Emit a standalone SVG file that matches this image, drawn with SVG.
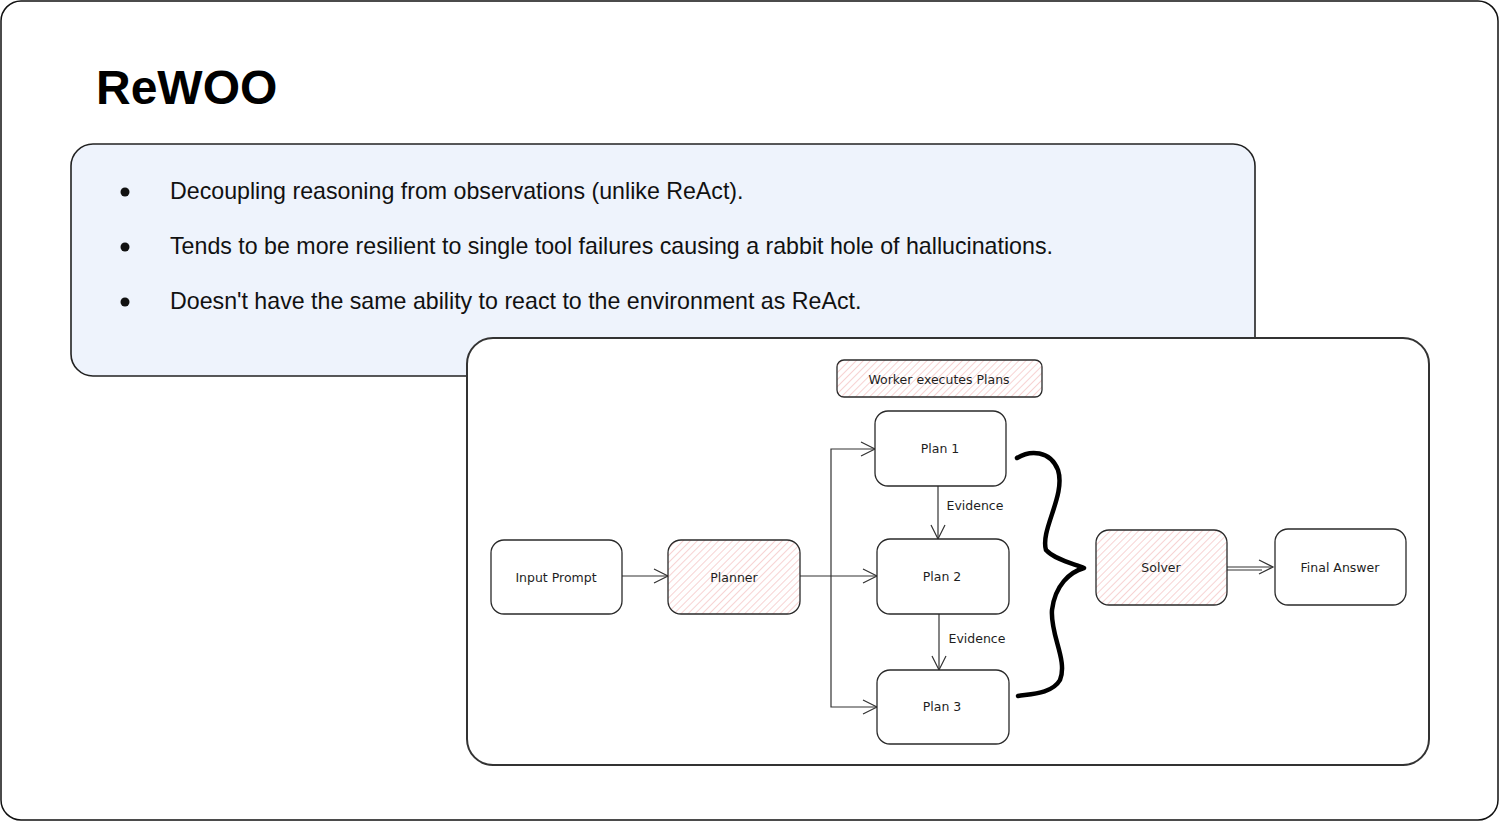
<svg xmlns="http://www.w3.org/2000/svg" width="1500" height="822" viewBox="0 0 1500 822">
<style>
.frame{fill:#fff;stroke:#111;stroke-width:1.5}
.panel{fill:#eef3fc;stroke:#222;stroke-width:1.6}
.card{fill:#fff;stroke:#333;stroke-width:2}
.node{fill:#fff;stroke:#2a2a2a;stroke-width:1.3}
.hatch{fill:url(#hatch);stroke:#2a2a2a;stroke-width:1.3}
.title{font-family:"Liberation Sans",Arial,sans-serif;font-weight:bold;font-size:48px;fill:#000}
.bullet{font-family:"Liberation Sans",Arial,sans-serif;font-size:23.2px;fill:#111}
.lbl{font-family:"DejaVu Sans",sans-serif;font-size:12.5px;fill:#1e1e1e;text-anchor:middle;dominant-baseline:central}
.edge{fill:none;stroke:#333;stroke-width:1.2}
.brace{fill:none;stroke:#000;stroke-width:4.5;stroke-linecap:round;stroke-linejoin:round}
</style>
<defs>
<pattern id="hatch" patternUnits="userSpaceOnUse" width="5" height="5" patternTransform="rotate(45)">
<rect width="5" height="5" fill="#fff"/>
<line x1="0" y1="0" x2="0" y2="5" stroke="#f3bcbc" stroke-width="1.3"/>
</pattern>
<marker id="arr" markerUnits="userSpaceOnUse" markerWidth="20" markerHeight="20" refX="15" refY="8" orient="auto">
<path d="M1,1 L15,8 L1,15" fill="none" stroke="#333" stroke-width="1.2"/>
</marker>
</defs>
<rect class="frame" x="1" y="1" width="1497" height="819" rx="20"/>
<text class="title" x="96" y="104">ReWOO</text>
<g id="summary">
<rect class="panel" x="71" y="144" width="1184" height="232" rx="22"/>
<circle cx="125" cy="192" r="4.5" fill="#111"/>
<text class="bullet" x="170" y="199">Decoupling reasoning from observations (unlike ReAct).</text>
<circle cx="125" cy="247" r="4.5" fill="#111"/>
<text class="bullet" x="170" y="254">Tends to be more resilient to single tool failures causing a rabbit hole of hallucinations.</text>
<circle cx="125" cy="302" r="4.5" fill="#111"/>
<text class="bullet" x="170" y="309">Doesn't have the same ability to react to the environment as ReAct.</text>
</g>
<rect class="card" x="467" y="338" width="962" height="427" rx="26"/>
<g id="connectors">
<path class="edge" d="M622,576 L668,576" marker-end="url(#arr)"/>
<path class="edge" d="M800,576 L877,576" marker-end="url(#arr)"/>
<path class="edge" d="M831,576 L831,449 L875,449" marker-end="url(#arr)"/>
<path class="edge" d="M831,576 L831,707 L877,707" marker-end="url(#arr)"/>
<path class="edge" d="M938,486 L938,539" marker-end="url(#arr)"/>
<path class="edge" d="M939,614 L939,670" marker-end="url(#arr)"/>
<path class="edge" d="M1227,567 L1273,567" marker-end="url(#arr)"/>
<path class="edge" d="M1227,570 L1262,570"/>
<text class="lbl" x="975" y="505">Evidence</text>
<text class="lbl" x="977" y="638">Evidence</text>
<path class="brace" d="M1017,458 C1030,450 1050,450 1058,470 C1066,495 1040,530 1046,550 C1055,560 1075,564 1084,568 C1070,572 1055,585 1052,610 C1050,635 1068,660 1060,680 C1052,694 1030,694 1018,696"/>
</g>
<g id="worker">
<rect class="hatch" x="837" y="360" width="205" height="37" rx="7"/>
<text class="lbl" x="939" y="379">Worker executes Plans</text>
</g>
<g id="input">
<rect class="node" x="491" y="540" width="131" height="74" rx="13"/>
<text class="lbl" x="556" y="577">Input Prompt</text>
</g>
<g id="planner">
<rect class="hatch" x="668" y="540" width="132" height="74" rx="13"/>
<text class="lbl" x="734" y="577">Planner</text>
</g>
<g id="plan1">
<rect class="node" x="875" y="411" width="131" height="75" rx="13"/>
<text class="lbl" x="940" y="448">Plan 1</text>
</g>
<g id="plan2">
<rect class="node" x="877" y="539" width="132" height="75" rx="13"/>
<text class="lbl" x="942" y="576">Plan 2</text>
</g>
<g id="plan3">
<rect class="node" x="877" y="670" width="132" height="74" rx="13"/>
<text class="lbl" x="942" y="706">Plan 3</text>
</g>
<g id="solver">
<rect class="hatch" x="1096" y="530" width="131" height="75" rx="13"/>
<text class="lbl" x="1161" y="567">Solver</text>
</g>
<g id="final">
<rect class="node" x="1275" y="529" width="131" height="76" rx="13"/>
<text class="lbl" x="1340" y="567">Final Answer</text>
</g>
</svg>
